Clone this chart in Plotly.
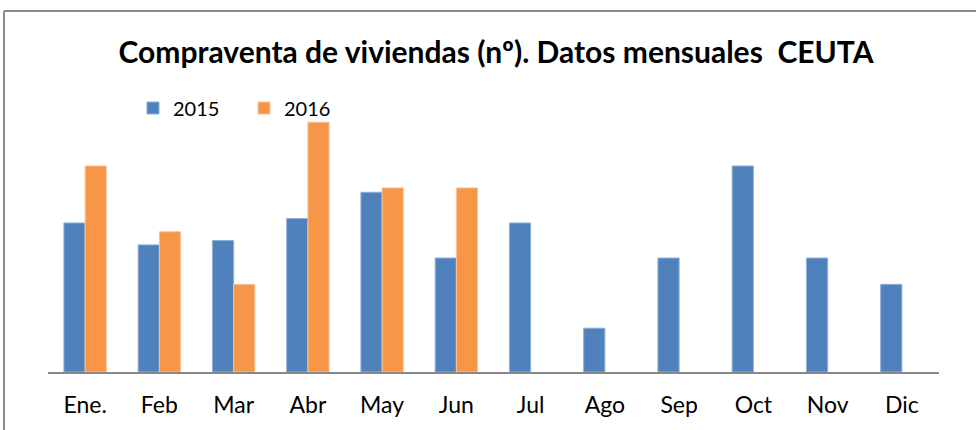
import plotly.graph_objects as go

meses = ["Ene.", "Feb", "Mar", "Abr", "May", "Jun", "Jul", "Ago", "Sep", "Oct", "Nov", "Dic"]
valores_2015 = [34, 29, 30, 35, 41, 26, 34, 10, 26, 47, 26, 20]
valores_2016 = [47, 32, 20, 57, 42, 42, None, None, None, None, None, None]
titulo = "Compraventa de viviendas (nº). Datos mensuales\u00a0\u00a0CEUTA"

W, H = 976, 430
ML, MR, MT, MB = 48, 37, 109, 58
pw = W - ML - MR
ph = H - MT - MB

def px_to_paper_x(x):
    return (x - ML) / pw

def px_to_paper_y(y):
    return (H - MB - y) / ph

fig = go.Figure()
fig.add_trace(go.Bar(x=meses, y=valores_2015, name="2015",
                     marker=dict(color="#4F81BD", line=dict(color="#8fb0d8", width=1))))
fig.add_trace(go.Bar(x=meses, y=valores_2016, name="2016",
                     marker=dict(color="#F79646", line=dict(color="#fbc39a", width=1))))

fig.update_layout(
    width=W, height=H,
    margin=dict(l=ML, r=MR, t=MT, b=MB, pad=0),
    paper_bgcolor="white", plot_bgcolor="white",
    font=dict(family="Lato", color="black"),
    bargap=0.429, bargroupgap=0,
    title=dict(text=titulo, font=dict(family="Lato", size=30, color="black", weight="bold"),
               x=496 / W, xanchor="center", xref="container",
               y=1 - 52 / H, yanchor="middle", yref="container"),
    legend=dict(orientation="h", x=px_to_paper_x(133), xanchor="left",
                y=px_to_paper_y(108), yanchor="middle",
                font=dict(size=20, family="Lato"), entrywidth=66, entrywidthmode="pixels",
                bgcolor="rgba(0,0,0,0)", borderwidth=0),
    showlegend=True,
    xaxis=dict(showline=True, linecolor="#888888", linewidth=2, ticks="",
               showgrid=False, tickfont=dict(size=23, family="Lato", color="black"),
               ticklabelstandoff=11, fixedrange=True),
    yaxis=dict(range=[0, 60], showline=False, showgrid=False, zeroline=False,
               showticklabels=False, ticks="", fixedrange=True),
    shapes=[
        dict(type="line", xref="paper", yref="paper",
             x0=px_to_paper_x(4), x1=px_to_paper_x(977),
             y0=px_to_paper_y(11), y1=px_to_paper_y(11),
             line=dict(color="#8c8c8c", width=2)),
        dict(type="line", xref="paper", yref="paper",
             x0=px_to_paper_x(4), x1=px_to_paper_x(4),
             y0=px_to_paper_y(11), y1=px_to_paper_y(432),
             line=dict(color="#8c8c8c", width=2)),
    ],
)

fig.write_html("out.html", config={"displayModeBar": False},
               post_script="document.body.style.margin='0';document.body.style.overflow='hidden';")
